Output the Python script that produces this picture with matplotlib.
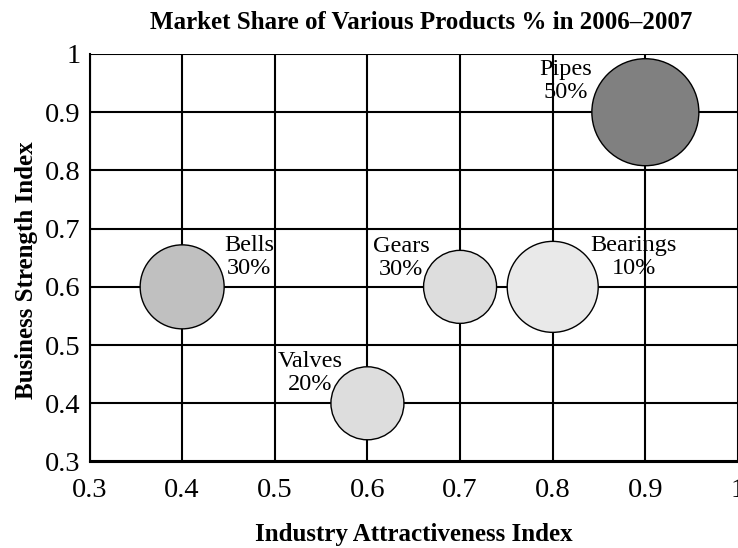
import matplotlib.pyplot as plt
import numpy as np

plt.rcParams['font.family'] = ['Liberation Serif', 'DejaVu Serif']

# Data
products = ['Pipes', 'Bells', 'Gears', 'Valves', 'Bearings']
share = ['50%', '30%', '30%', '20%', '10%']
attractiveness = [0.9, 0.4, 0.7, 0.6, 0.8]
strength = [0.9, 0.6, 0.6, 0.4, 0.6]
bubble_size = [107, 84, 73, 73, 91]   # bubble diameter (px)
ticks = [0.3, 0.4, 0.5, 0.6, 0.7, 0.8, 0.9, 1]
tick_labels = ['0.3', '0.4', '0.5', '0.6', '0.7', '0.8', '0.9', '1']

# style
colors = ['#808080', '#c0c0c0', '#dddddd', '#dddddd', '#e9e9e9']
label_offsets = [(-80, 31), (67, 30), (-59, 29), (-57, 30), (81, 30)]  # px

fig = plt.figure(figsize=(7.38, 5.48), dpi=100)
fig.patch.set_facecolor('white')
ax = fig.add_axes([89.5 / 738, 86.5 / 548, 648.5 / 738, 407.5 / 548])

ax.set_xlim(0.3, 1)
ax.set_ylim(0.3, 1)
ax.set_xticks(ticks)
ax.set_yticks(ticks)
ax.set_xticklabels(tick_labels)
ax.set_yticklabels(tick_labels)
ax.tick_params(length=0, labelsize=20.5)
ax.tick_params(axis='x', pad=12)
ax.tick_params(axis='y', pad=6.5)

ax.grid(True, color='black', linewidth=1.5)
ax.set_axisbelow(True)
for side in ['top', 'right']:
    ax.spines[side].set_visible(False)
for side in ['left', 'bottom']:
    ax.spines[side].set_linewidth(1.5)

s = (np.array(bubble_size) * 0.72) ** 2
ax.scatter(attractiveness, strength, s=s, c=colors, edgecolors='black',
           linewidths=1.0, zorder=3, clip_on=False)

for name, pct, x, y, off in zip(products, share, attractiveness, strength, label_offsets):
    ax.annotate(name + '\n' + pct, (x, y),
                xytext=(off[0] * 0.72, off[1] * 0.72), textcoords='offset points',
                ha='center', va='center', multialignment='center',
                fontsize=17.5, linespacing=1.1, zorder=4)

ax.set_title('Market Share of Various Products % in 2006\u20132007',
             fontsize=18, fontweight='bold', pad=18, x=0.511)
ax.set_xlabel('Industry Attractiveness Index', fontsize=18, fontweight='bold',
              labelpad=14.5)
ax.set_ylabel('Business Strength Index', fontsize=18, fontweight='bold')
ax.yaxis.set_label_coords(-0.08, 0.47)

fig.savefig('out.png', dpi=100)
